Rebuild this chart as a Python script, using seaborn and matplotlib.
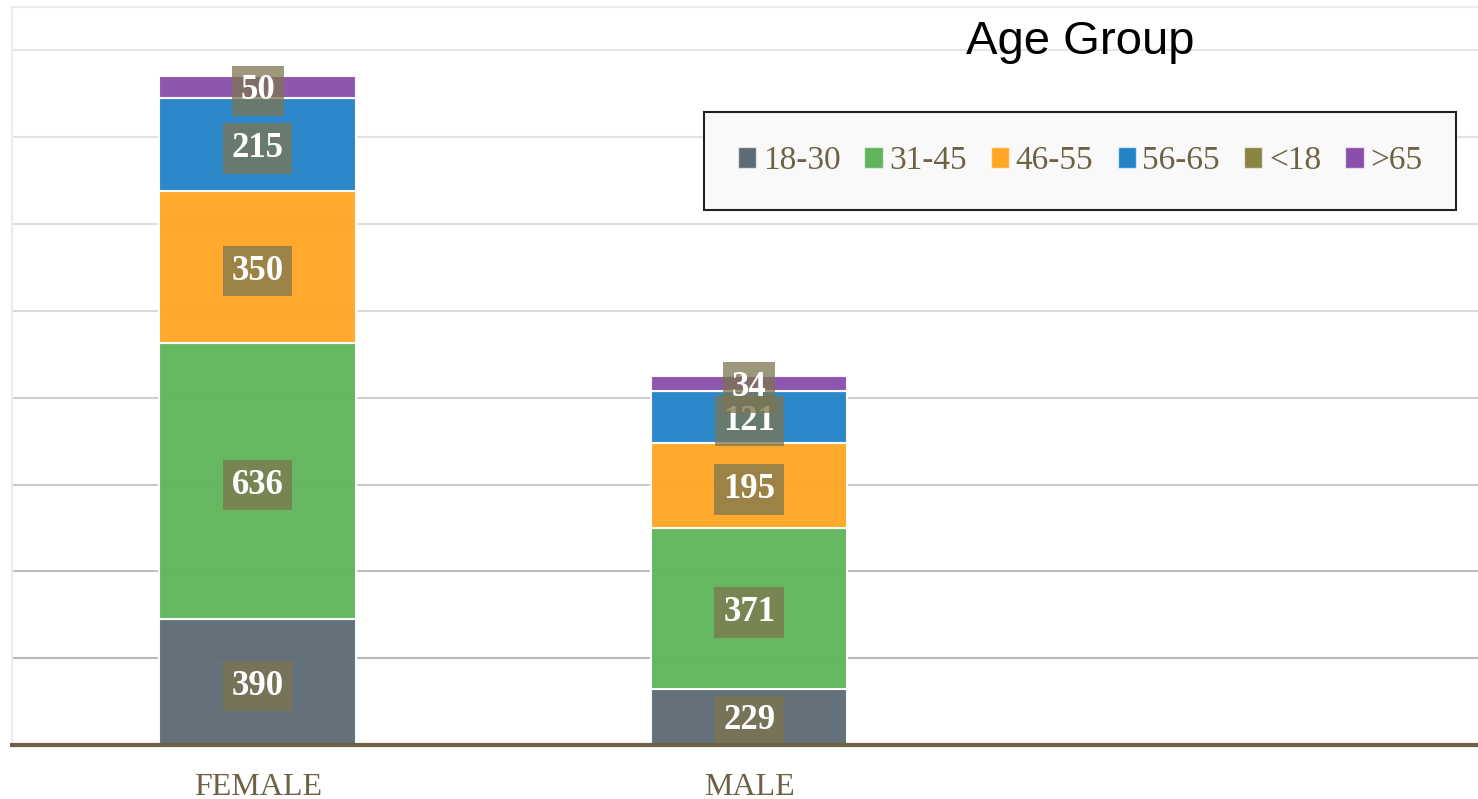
import numpy as np
import seaborn as sns
import matplotlib.pyplot as plt
from matplotlib.patches import Patch

# data
genders = ['FEMALE', 'MALE']
age_groups = ['18-30', '31-45', '46-55', '56-65', '<18', '>65']
female = [390, 636, 350, 215, 0, 50]
male = [229, 371, 195, 121, 0, 34]
colors = ['#5e6b75', '#60b45b', '#ffa624', '#2483c7', '#8a8442', '#8a4fad']

sns.set_theme(style='white')
plt.rcParams['font.family'] = ['Liberation Serif', 'DejaVu Serif']

text_col = '#6e6245'
y_min, y_max = 100, 1800

fig = plt.figure(figsize=(14.78, 7.99), dpi=100)
ax = fig.add_axes([12 / 1478, 54 / 799, 1 - 12 / 1478, 738 / 799])

# stacked bars, one seaborn call per age group
bottom = np.zeros(len(genders))
for i, grp in enumerate(age_groups):
    vals = np.array([female[i], male[i]], dtype=float)
    sns.barplot(x=genders, y=vals, bottom=bottom, color=colors[i], width=0.4,
                saturation=1, alpha=0.96, edgecolor=(1, 1, 1, 0.6), linewidth=1.5,
                errorbar=None, ax=ax, zorder=2)
    for j, v in enumerate(vals):
        if v > 0:
            # label sits in the middle of the visible part of the segment
            y_mid = (max(bottom[j], y_min) + bottom[j] + v) / 2
            ax.text(j, y_mid, f'{int(v)}', ha='center', va='center_baseline',
                    fontsize=25, fontweight='bold', color='white', zorder=5,
                    bbox=dict(boxstyle='square,pad=0.25', facecolor=(0.49, 0.46, 0.31),
                              alpha=0.75, edgecolor='none'))
    bottom += vals

ax.set_xlim(-0.5, 2.483)
ax.set_ylim(y_min, y_max)
ax.set_yticks([])
ax.set_xlabel('')
ax.set_ylabel('')

# gridlines, darker near the bottom
grid_cols = ['#b8b8b8', '#bfbfbf', '#c8c8c8', '#d0d0d0', '#d8d8d8', '#dedede', '#e2e2e2', '#e6e6e6']
for k, y in enumerate(range(300, 1800, 200)):
    ax.axhline(y, color=grid_cols[k], linewidth=1.5, zorder=1)

ax.tick_params(axis='x', length=0, labelsize=23, labelcolor=text_col, pad=20)
for s in ['top', 'left']:
    ax.spines[s].set_color('#ececec')
    ax.spines[s].set_linewidth(1.5)
ax.spines['right'].set_visible(False)
ax.spines['bottom'].set_color(text_col)
ax.spines['bottom'].set_linewidth(3)
ax.spines['bottom'].set_zorder(6)

handles = [Patch(facecolor=c, edgecolor=(1, 1, 1, 0.6)) for c in colors]
leg = fig.legend(handles, age_groups, loc='center',
                 bbox_to_anchor=(1080 / 1478, 1 - 161 / 799), ncol=6,
                 fontsize=24, handlelength=0.55, handleheight=0.55,
                 handletextpad=0.2, columnspacing=0.72, borderpad=1.0,
                 fancybox=False, edgecolor='#222222', facecolor='#f9f9f9',
                 framealpha=1)
leg.get_frame().set_linewidth(1.5)
for t in leg.get_texts():
    t.set_color(text_col)

fig.text(1080 / 1478, 1 - 42 / 799, 'Age Group', family='Liberation Sans',
         fontsize=34, ha='center', va='center', color='black')

fig.savefig('out.png', dpi=100)
